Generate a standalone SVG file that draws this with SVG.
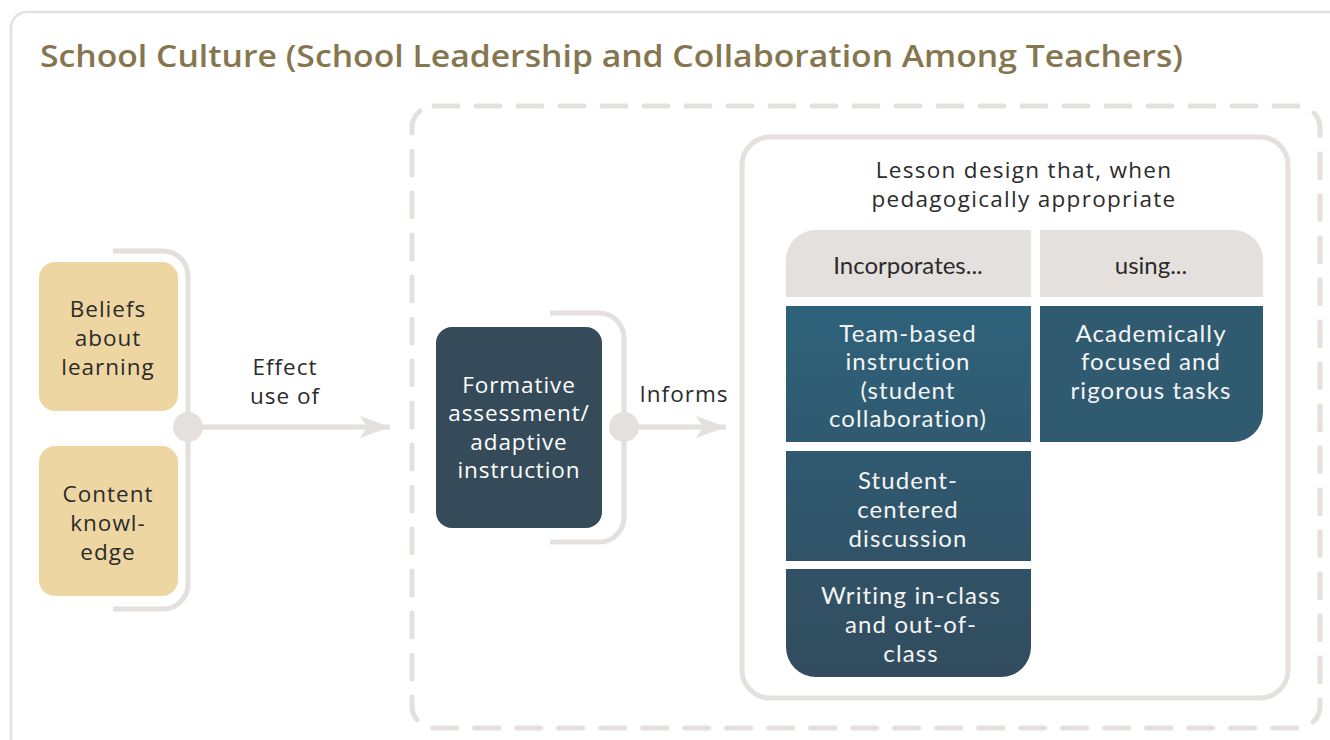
<svg xmlns="http://www.w3.org/2000/svg" width="1330" height="740" viewBox="0 0 1330 740">
  <style>
    .frame { fill: none; stroke: #e4e0dd; }
    .lbl { font-family: "Open Sans", "Liberation Sans", sans-serif; font-size: 22.5px; letter-spacing: 1px; fill: #2b2b2b; text-anchor: middle; }
    .wide { letter-spacing: 1.3px; }
    .wlbl { font-family: "Open Sans", "Liberation Sans", sans-serif; font-size: 22.5px; letter-spacing: 0.9px; fill: #ffffff; text-anchor: middle; }
    .cell { font-family: Lato, "Liberation Sans", sans-serif; font-size: 24px; letter-spacing: 1.1px; fill: #f4f4f4; text-anchor: middle; }
    .head { font-family: Lato, "Liberation Sans", sans-serif; font-size: 24px; fill: #2b2b2b; text-anchor: middle; }
    .tan { fill: #eed6a3; }
    .conn { stroke: #e4e0dd; stroke-width: 5; fill: none; }
    .dot { fill: #e4e0dd; }
  </style>
  <defs>
    <linearGradient id="teal" gradientUnits="userSpaceOnUse" x1="0" y1="306" x2="0" y2="678">
      <stop offset="0" stop-color="#2e627b"/>
      <stop offset="1" stop-color="#324c5e"/>
    </linearGradient>
    <marker id="head" markerUnits="userSpaceOnUse" markerWidth="32" markerHeight="24" refX="30" refY="12" orient="auto">
      <path d="M30,12 L0,1 L7,12 L0,23 Z" fill="#e4e0dd"/>
    </marker>
  </defs>

  <!-- outer frame -->
  <rect class="frame" x="11" y="12" width="1345" height="760" rx="16" stroke-width="2.5"/>
  <text x="40" y="67" font-family="'Open Sans', 'Liberation Sans', sans-serif" font-size="30" font-weight="600" fill="#867650" textLength="1143" lengthAdjust="spacingAndGlyphs">School Culture (School Leadership and Collaboration Among Teachers)</text>

  <!-- dashed region -->
  <rect class="frame" x="412" y="106" width="908" height="622" rx="22" stroke-width="5" stroke-dasharray="24 18" stroke-linecap="round"/>

  <!-- lesson design panel -->
  <rect class="frame" x="742" y="137" width="546" height="561" rx="28" stroke-width="5"/>

  <!-- connectors -->
  <g id="connectors">
    <path class="conn" d="M113,251 H163 A25,25 0 0 1 188,276 V584 A25,25 0 0 1 163,609 H113"/>
    <line class="conn" x1="188" y1="427" x2="390" y2="427" marker-end="url(#head)"/>
    <circle class="dot" cx="188" cy="427" r="15"/>
    <text class="lbl" x="285" y="375">Effect</text>
    <text class="lbl" x="285" y="404">use of</text>

    <path class="conn" d="M550,313 H599 A25,25 0 0 1 624,338 V517 A25,25 0 0 1 599,542 H550"/>
    <line class="conn" x1="624" y1="427" x2="726" y2="427" marker-end="url(#head)"/>
    <circle class="dot" cx="624" cy="427" r="15"/>
    <text class="lbl" x="684" y="402">Informs</text>
  </g>

  <g id="beliefs">
    <rect class="tan" x="39" y="262" width="139" height="149" rx="16"/>
    <text class="lbl" x="108" y="317">Beliefs</text>
    <text class="lbl" x="108" y="346">about</text>
    <text class="lbl" x="108" y="375">learning</text>
  </g>

  <g id="content-knowledge">
    <rect class="tan" x="39" y="446" width="139" height="150" rx="16"/>
    <text class="lbl" x="108" y="502">Content</text>
    <text class="lbl" x="108" y="531">knowl-</text>
    <text class="lbl" x="108" y="560">edge</text>
  </g>

  <g id="formative">
    <rect x="436" y="327" width="166" height="201" rx="16" fill="#354b5a"/>
    <text class="wlbl" x="519" y="393">Formative</text>
    <text class="wlbl" x="519" y="421">assessment/</text>
    <text class="wlbl" x="519" y="450">adaptive</text>
    <text class="wlbl" x="519" y="478">instruction</text>
  </g>

  <g id="lesson-design">
    <text class="lbl wide" x="1024" y="178">Lesson design that, when</text>
    <text class="lbl wide" x="1024" y="207">pedagogically appropriate</text>
  </g>

  <g id="incorporates">
    <path d="M786,260 A30,30 0 0 1 816,230 H1031 V297 H786 Z" fill="#e4e0dd"/>
    <text class="head" x="908" y="274">Incorporates...</text>
  </g>

  <g id="using">
    <path d="M1040,230 H1233 A30,30 0 0 1 1263,260 V297 H1040 Z" fill="#e4e0dd"/>
    <text class="head" x="1151" y="274">using...</text>
  </g>

  <g id="team-based">
    <rect x="786" y="306" width="245" height="136" fill="url(#teal)"/>
    <text class="cell" x="908" y="342">Team-based</text>
    <text class="cell" x="908" y="370">instruction</text>
    <text class="cell" x="908" y="399">(student</text>
    <text class="cell" x="908" y="427">collaboration)</text>
  </g>

  <g id="academically">
    <path d="M1040,306 H1263 V412 A30,30 0 0 1 1233,442 H1040 Z" fill="#305a70"/>
    <text class="cell" x="1151" y="342">Academically</text>
    <text class="cell" x="1151" y="370">focused and</text>
    <text class="cell" x="1151" y="399">rigorous tasks</text>
  </g>

  <g id="student-centered">
    <rect x="786" y="451" width="245" height="110" fill="url(#teal)"/>
    <text class="cell" x="908" y="489">Student-</text>
    <text class="cell" x="908" y="518">centered</text>
    <text class="cell" x="908" y="547">discussion</text>
  </g>

  <g id="writing">
    <path d="M786,569 H1031 V647 A30,30 0 0 1 1001,677 H816 A30,30 0 0 1 786,647 Z" fill="url(#teal)"/>
    <text class="cell" x="911" y="604">Writing in-class</text>
    <text class="cell" x="911" y="633">and out-of-</text>
    <text class="cell" x="911" y="662">class</text>
  </g>
</svg>
